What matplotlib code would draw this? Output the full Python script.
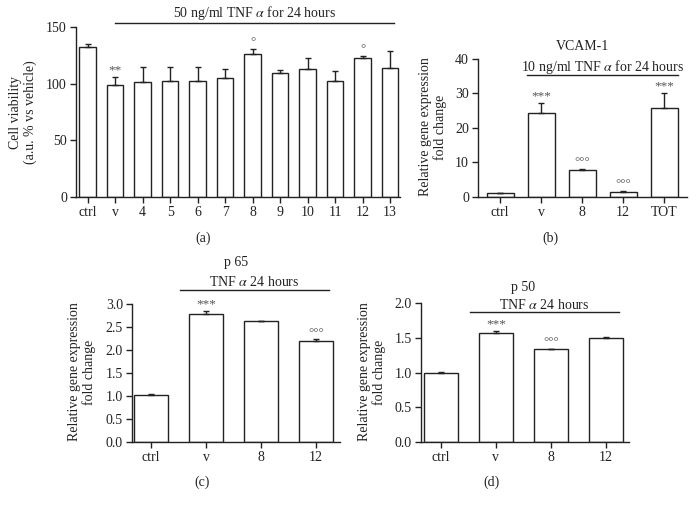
import numpy as np
import matplotlib.pyplot as plt

plt.rcParams['font.family'] = ['Liberation Serif', 'DejaVu Serif']
plt.rcParams['mathtext.fontset'] = 'stix'

# (a) cell viability
a_labels = ['ctrl', 'v', '4', '5', '6', '7', '8', '9', '10', '11', '12', '13']
a_means = [132.4, 98.8, 101.8, 102.6, 102.6, 104.7, 126.2, 109.7, 112.6, 102.6, 122.9, 113.5]
a_err = [2.3, 6.8, 13.2, 11.8, 11.8, 8.2, 4.4, 2.4, 10.3, 8.9, 1.5, 15.6]
a_marks = ['', '**', '', '', '', '', '°', '', '', '', '°', '']

# (b) VCAM-1
b_labels = ['ctrl', 'v', '8', '12', 'TOT']
b_means = [1.1, 24.4, 7.8, 1.4, 25.8]
b_err = [0.15, 2.9, 0.3, 0.25, 4.4]
b_marks = ['', '***', '°°°', '°°°', '***']

# (c) p 65
c_labels = ['ctrl', 'v', '8', '12']
c_means = [1.02, 2.78, 2.63, 2.19]
c_err = [0.015, 0.07, 0.01, 0.04]
c_marks = ['', '***', '', '°°°']

# (d) p 50
d_labels = ['ctrl', 'v', '8', '12']
d_means = [1.0, 1.575, 1.335, 1.5]
d_err = [0.012, 0.02, 0.01, 0.006]
d_marks = ['', '***', '°°°', '']

ink = '#222222'
W, H = 696, 509


def px_axes(fig, x0, x1, ytop, ybot):
    return fig.add_axes([x0 / W, 1 - ybot / H, (x1 - x0) / W, (ybot - ytop) / H])


def panel(ax, labels, means, err, marks, xlim, ylim, ticks, width, fmt):
    x = np.arange(len(labels))
    ax.bar(x, means, width=width, color='white', edgecolor=ink, linewidth=1.0, zorder=2)
    ax.errorbar(x, means, yerr=[np.zeros(len(err)), err], fmt='none', ecolor=ink,
                elinewidth=1.0, capsize=2.3, capthick=1.0, zorder=3)
    for xi, m, e, s in zip(x, means, err, marks):
        if s:
            ax.annotate(s, (xi, m + e), xytext=(0, 0.5), textcoords='offset points',
                        ha='center', va='bottom', fontsize=9.5, color='#555555')
    ax.set_xlim(*xlim)
    ax.set_ylim(*ylim)
    ax.set_xticks(x)
    ax.set_xticklabels(labels)
    ax.set_yticks(ticks)
    ax.set_yticklabels([fmt.format(t) for t in ticks])
    for side in ['top', 'right']:
        ax.spines[side].set_visible(False)
    for side in ['left', 'bottom']:
        ax.spines[side].set_color(ink)
        ax.spines[side].set_linewidth(1.0)
    ax.tick_params(direction='out', length=4.5, width=1.0, color=ink,
                   labelsize=10, labelcolor=ink, pad=2)
    ax.patch.set_alpha(0)


def bracket(ax, x0, x1, y, text, ty):
    ax.plot([x0, x1], [y, y], color=ink, lw=1.0, clip_on=False)
    ax.text((x0 + x1) / 2, ty, text, ha='center', va='center', fontsize=10, color=ink)


fig = plt.figure(figsize=(6.96, 5.09), dpi=100)

ax_a = px_axes(fig, 76, 400, 27, 197)
panel(ax_a, a_labels, a_means, a_err, a_marks, (-0.42, 11.36), (0, 150),
      [0, 50, 100, 150], 0.6, '{:.0f}')
bracket(ax_a, 1, 11.15, 153.5, r'50 ng/ml TNF $\alpha$ for 24 hours', 162.5)

ax_b = px_axes(fig, 478, 687, 59, 197)
panel(ax_b, b_labels, b_means, b_err, b_marks, (-0.54, 4.56), (0, 40),
      [0, 10, 20, 30, 40], 0.66, '{:.0f}')
bracket(ax_b, 0.66, 4.33, 35.4, r'10 ng/ml TNF $\alpha$ for 24 hours', 37.8)
ax_b.text(2.0, 43.6, 'VCAM-1', ha='center', va='center', fontsize=10, color=ink)

ax_c = px_axes(fig, 132, 340, 304, 442)
panel(ax_c, c_labels, c_means, c_err, c_marks, (-0.35, 3.44), (0, 3.0),
      [0, 0.5, 1.0, 1.5, 2.0, 2.5, 3.0], 0.62, '{:.1f}')
bracket(ax_c, 0.53, 3.24, 3.30, r'TNF $\alpha$ 24 hours', 3.48)
ax_c.text(1.55, 3.91, 'p 65', ha='center', va='center', fontsize=10, color=ink)

ax_d = px_axes(fig, 421, 629, 303, 442)
panel(ax_d, d_labels, d_means, d_err, d_marks, (-0.36, 3.42), (0, 2.0),
      [0, 0.5, 1.0, 1.5, 2.0], 0.62, '{:.1f}')
bracket(ax_d, 0.53, 3.24, 1.87, r'TNF $\alpha$ 24 hours', 1.97)
ax_d.text(1.5, 2.23, 'p 50', ha='center', va='center', fontsize=10, color=ink)

ylab = 'Relative gene expression\nfold change'
fig.text(23 / W, 1 - 112 / H, 'Cell viability\n(a.u. % vs vehicle)', rotation=90,
         ha='center', va='center', fontsize=10, color=ink, linespacing=1.1)
fig.text(433 / W, 1 - 127 / H, ylab, rotation=90, ha='center', va='center',
         fontsize=10, color=ink, linespacing=1.1)
fig.text(82 / W, 1 - 372 / H, ylab, rotation=90, ha='center', va='center',
         fontsize=10, color=ink, linespacing=1.1)
fig.text(372 / W, 1 - 372 / H, ylab, rotation=90, ha='center', va='center',
         fontsize=10, color=ink, linespacing=1.1)

for lab, x, y in [('(a)', 203, 238), ('(b)', 550, 238), ('(c)', 202, 482), ('(d)', 491, 482)]:
    fig.text(x / W, 1 - y / H, lab, ha='center', va='center', fontsize=10, color=ink)

fig.savefig('out.png', dpi=100)
